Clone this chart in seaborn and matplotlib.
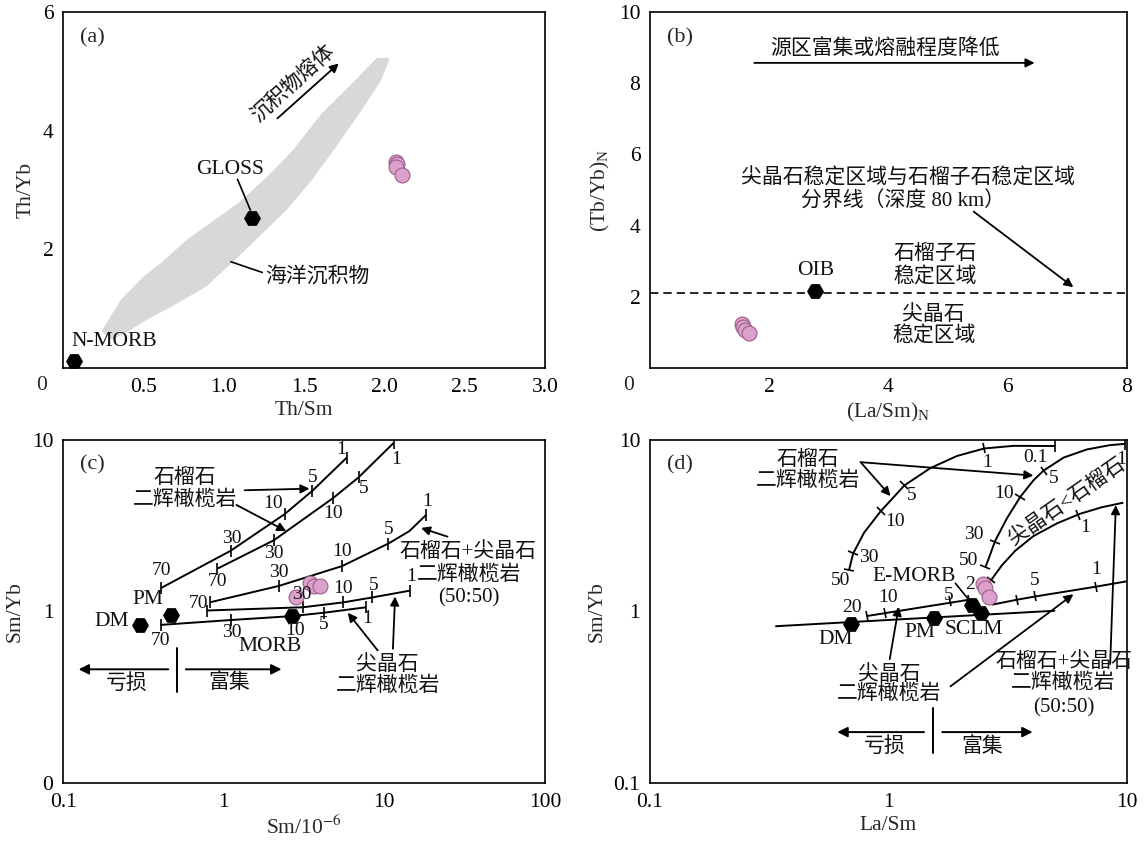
import numpy as np
import matplotlib
matplotlib.use("Agg")
import matplotlib.pyplot as plt
import seaborn as sns
from matplotlib.markers import MarkerStyle
from matplotlib.transforms import Affine2D
from matplotlib.ticker import MultipleLocator, FixedLocator, FixedFormatter, LogLocator, NullFormatter

sns.set_theme(style="white")
plt.rcParams["font.family"] = ["Liberation Serif", "Noto Sans CJK SC"]
plt.rcParams["mathtext.fontset"] = "stix"
plt.rcParams["axes.unicode_minus"] = False

# ---------------- (a) Th/Yb vs Th/Sm ----------------
a_sed_x = [0.24, 0.36, 0.50, 0.61, 0.77, 0.93, 1.09, 1.27, 1.43, 1.61, 1.80, 1.89, 1.95, 2.02,
           2.03, 1.98, 1.86, 1.70, 1.55, 1.39, 1.20, 1.05, 0.89, 0.82, 0.68, 0.52, 0.39, 0.30]
a_sed_y = [0.62, 1.15, 1.54, 1.77, 2.16, 2.47, 2.78, 3.22, 3.67, 4.29, 4.80, 5.05, 5.22, 5.23,
           5.19, 4.85, 4.35, 3.73, 3.17, 2.66, 2.16, 1.77, 1.37, 1.26, 1.04, 0.81, 0.59, 0.48]
a_sample_x = [2.07, 2.08, 2.075, 2.11]
a_sample_y = [3.47, 3.43, 3.38, 3.25]
a_ref_x = [0.068, 1.177]          # N-MORB, GLOSS
a_ref_y = [0.11, 2.52]

# ---------------- (b) (Tb/Yb)N vs (La/Sm)N ----------------
b_sample_x = [1.545, 1.56, 1.60, 1.655]
b_sample_y = [1.24, 1.15, 1.06, 0.98]
b_oib_x = [2.77]
b_oib_y = [2.17]
b_boundary = 2.1

# ---------------- (c) Sm/Yb vs Sm ----------------
c_grt1_x = [0.405, 1.105, 2.39, 3.56, 5.83]
c_grt1_y = [1.366, 2.26, 3.69, 5.05, 7.89]
c_grt2_x = [0.914, 2.05, 4.82, 6.92, 11.4]
c_grt2_y = [1.777, 2.60, 4.60, 6.06, 9.6]
c_mix_x = [0.818, 2.21, 5.46, 10.6, 14.3, 18.2]
c_mix_y = [1.13, 1.41, 1.84, 2.49, 2.94, 3.66]
c_mix_ticks = [0, 1, 2, 3, 5]
c_spl1_x = [0.787, 3.11, 5.56, 8.39, 14.5]
c_spl1_y = [1.013, 1.058, 1.13, 1.207, 1.324]
c_spl2_x = [0.405, 1.116, 2.67, 4.2, 7.7]
c_spl2_y = [0.835, 0.892, 0.940, 0.983, 1.058]
c_melt = ["70", "30", "10", "5", "1"]
c_ref_names = ["DM", "PM", "MORB"]
c_ref_x = [0.30, 0.473, 2.67]
c_ref_y = [0.835, 0.949, 0.94]
c_sample_x = [2.83, 3.42, 3.67, 3.98]
c_sample_y = [1.22, 1.46, 1.40, 1.40]

# ---------------- (d) Sm/Yb vs La/Sm ----------------
d_arc1_x = [0.683, 0.711, 0.79, 0.926, 1.167, 1.50, 1.94, 2.52, 3.34, 5.0]
d_arc1_y = [1.74, 2.18, 2.88, 3.83, 5.44, 6.86, 8.07, 8.92, 9.24, 9.22]
d_arc1_tx = [0.683, 0.711, 0.926, 1.167, 2.52, 5.0]
d_arc1_ty = [1.74, 2.18, 3.83, 5.44, 8.92, 9.22]
d_arc2_x = [2.55, 2.66, 2.80, 3.14, 3.57, 4.05, 4.47, 5.42, 6.78, 8.49, 9.82]
d_arc2_y = [1.815, 2.12, 2.58, 3.50, 4.66, 5.81, 6.63, 7.89, 8.80, 9.33, 9.49]
d_arc2_tx = [2.55, 2.80, 3.57, 4.47, 9.82]
d_arc2_ty = [1.815, 2.55, 4.66, 6.63, 9.49]
d_arc3_x = [2.69, 2.99, 3.40, 4.05, 5.08, 6.35, 7.83, 9.66]
d_arc3_y = [1.52, 1.86, 2.26, 2.75, 3.26, 3.71, 4.05, 4.31]
d_arc3_tx = [2.69, 6.25]
d_arc3_ty = [1.52, 3.66]
d_spl1_x = [0.81, 2.17]
d_spl1_y = [0.94, 1.17]
d_spl1_tx = [0.81, 0.97, 1.816, 2.17]
d_spl1_ty = [0.94, 0.979, 1.145, 1.17]
d_spl2_x = [2.72, 3.45, 4.12, 7.41, 10.0]
d_spl2_y = [1.096, 1.17, 1.223, 1.395, 1.5]
d_spl2_tx = [3.45, 4.12, 7.41]
d_spl2_ty = [1.17, 1.223, 1.395]
d_mantle_x = [0.335, 5.0]
d_mantle_y = [0.82, 1.01]
d_ref_names = ["DM", "PM", "E-MORB", "SCLM"]
d_ref_x = [0.693, 1.557, 2.23, 2.44]
d_ref_y = [0.85, 0.915, 1.089, 0.983]
d_sample_x = [2.50, 2.55, 2.65]
d_sample_y = [1.445, 1.37, 1.22]

PINK = "#DBA1CB"
PINK_EDGE = "#9C5F8B"
FS_TICK = 15.5
FS_CN = 15
FS_NUM = 14

fig = plt.figure(figsize=(11.48, 8.43), dpi=100)
ax_a = fig.add_axes([0.0549, 0.5635, 0.4199, 0.4223])
ax_b = fig.add_axes([0.5662, 0.5635, 0.4155, 0.4223])
ax_c = fig.add_axes([0.0549, 0.0712, 0.4199, 0.4069])
ax_d = fig.add_axes([0.5662, 0.0712, 0.4155, 0.4069])

for ax in (ax_a, ax_b, ax_c, ax_d):
    for s in ax.spines.values():
        s.set_color("black")
        s.set_linewidth(1.2)
    ax.tick_params(which="both", direction="in", top=False, right=False,
                   labelsize=FS_TICK, colors="black", pad=7)
    ax.tick_params(which="major", length=5, width=1.0)
    ax.tick_params(which="minor", length=3, width=0.8)


def arrow(ax, start, end, lw=1.3, ms=13):
    ax.annotate("", xy=end, xytext=start,
                arrowprops=dict(arrowstyle="-|>", color="black", lw=lw,
                                mutation_scale=ms, shrinkA=0, shrinkB=0))


def label(ax, x, y, s, size=FS_CN, **kw):
    ax.text(x, y, s, ha="center", va="center", fontsize=size, color="#111111",
            zorder=9, **kw)


def pink(ax, xs, ys, s=115):
    sns.scatterplot(x=xs, y=ys, ax=ax, s=s, color=PINK, edgecolor=PINK_EDGE,
                    linewidth=0.8, zorder=6, legend=False)


def hexes(ax, xs, ys, s=125):
    sns.scatterplot(x=xs, y=ys, ax=ax, s=s, marker="H", color="black",
                    edgecolor="black", zorder=7, legend=False)


def vticks(ax, xs, ys):
    ax.plot(xs, ys, ls="none", marker="|", ms=8, mew=1.2, color="black", zorder=4)


def perp_ticks(ax, cx, cy, tx, ty):
    pts = ax.transData.transform(np.column_stack([cx, cy]))
    for x, y in zip(tx, ty):
        p = ax.transData.transform((x, y))
        i = int(np.argmin(np.hypot(*(pts - p).T)))
        v = pts[min(i + 1, len(pts) - 1)] - pts[max(i - 1, 0)]
        ang = np.degrees(np.arctan2(v[1], v[0]))
        m = MarkerStyle("|", transform=Affine2D().rotate_deg(ang))
        ax.plot([x], [y], ls="none", marker=m, ms=8, mew=1.2, color="black", zorder=4)


def curve(ax, xs, ys):
    ax.plot(xs, ys, color="black", lw=1.4, zorder=3, solid_capstyle="butt")


# ======================= (a) =======================
ax = ax_a
ax.set_xlim(0, 3.0)
ax.set_ylim(0, 6)
ax.xaxis.set_major_locator(FixedLocator([0.5, 1.0, 1.5, 2.0, 2.5, 3.0]))
ax.xaxis.set_major_formatter(FixedFormatter(["0.5", "1.0", "1.5", "2.0", "2.5", "3.0"]))
ax.yaxis.set_major_locator(FixedLocator([2, 4, 6]))
ax.yaxis.set_minor_locator(MultipleLocator(0.2))
ax.text(-0.045, -0.05, "0", transform=ax.transAxes, ha="center", va="center", fontsize=FS_TICK)
ax.fill(a_sed_x, a_sed_y, color="#D8D8D8", lw=0, zorder=1)
hexes(ax, a_ref_x, a_ref_y)
pink(ax, a_sample_x, a_sample_y)
label(ax, 0.32, 0.45, "N-MORB", size=FS_TICK)
label(ax, 1.04, 3.34, "GLOSS", size=FS_TICK)
ax.plot([1.086, 1.166], [3.18, 2.66], color="black", lw=1.2)
label(ax, 1.58, 1.54, "海洋沉积物")
ax.plot([1.045, 1.24], [1.79, 1.61], color="black", lw=1.2)
arrow(ax, (1.334, 4.206), (1.716, 5.132))
label(ax, 1.43, 4.80, "沉积物熔体", rotation=42)
ax.text(0.035, 0.955, "(a)", transform=ax.transAxes, ha="left", va="top", fontsize=16)
ax.set_xlabel("Th/Sm", fontsize=FS_TICK, labelpad=3)
ax.set_ylabel("Th/Yb", fontsize=FS_TICK, labelpad=5)

# ======================= (b) =======================
ax = ax_b
ax.set_xlim(0, 8)
ax.set_ylim(0, 10)
ax.xaxis.set_major_locator(FixedLocator([2, 4, 6, 8]))
ax.xaxis.set_minor_locator(MultipleLocator(0.4))
ax.yaxis.set_major_locator(FixedLocator([2, 4, 6, 8, 10]))
ax.yaxis.set_minor_locator(MultipleLocator(1))
ax.text(-0.045, -0.05, "0", transform=ax.transAxes, ha="center", va="center", fontsize=FS_TICK)
ax.axhline(b_boundary, color="black", lw=1.2, ls=(0, (5, 3)), zorder=2)
hexes(ax, b_oib_x, b_oib_y)
pink(ax, b_sample_x, b_sample_y)
label(ax, 2.78, 2.74, "OIB", size=FS_TICK)
arrow(ax, (1.75, 8.57), (6.45, 8.57))
label(ax, 3.94, 8.94, "源区富集或熔融程度降低")
label(ax, 4.33, 5.33, "尖晶石稳定区域与石榴子石稳定区域")
label(ax, 4.24, 4.67, "分界线（深度 80 km）")
arrow(ax, (5.43, 4.39), (7.10, 2.27))
label(ax, 4.79, 3.18, "石榴子石")
label(ax, 4.79, 2.54, "稳定区域")
label(ax, 4.76, 1.50, "尖晶石")
label(ax, 4.76, 0.89, "稳定区域")
ax.text(0.035, 0.955, "(b)", transform=ax.transAxes, ha="left", va="top", fontsize=16)
ax.set_xlabel("(La/Sm)$_{\\mathregular{N}}$", fontsize=FS_TICK, labelpad=3)
ax.set_ylabel("(Tb/Yb)$_{\\mathregular{N}}$", fontsize=FS_TICK, labelpad=5)

# ======================= (c) =======================
ax = ax_c
ax.set_xscale("log")
ax.set_yscale("log")
ax.set_xlim(0.1, 100)
ax.set_ylim(0.1, 10)
ax.xaxis.set_major_locator(FixedLocator([0.1, 1, 10, 100]))
ax.xaxis.set_major_formatter(FixedFormatter(["0.1", "1", "10", "100"]))
ax.xaxis.set_minor_locator(LogLocator(base=10, subs=np.arange(2, 10)))
ax.xaxis.set_minor_formatter(NullFormatter())
ax.yaxis.set_major_locator(FixedLocator([0.1, 1, 10]))
ax.yaxis.set_major_formatter(FixedFormatter(["0", "1", "10"]))
ax.yaxis.set_minor_locator(LogLocator(base=10, subs=np.arange(2, 10)))
ax.yaxis.set_minor_formatter(NullFormatter())

for xs, ys in [(c_grt1_x, c_grt1_y), (c_grt2_x, c_grt2_y), (c_mix_x, c_mix_y),
               (c_spl1_x, c_spl1_y), (c_spl2_x, c_spl2_y)]:
    curve(ax, xs, ys)
vticks(ax, c_grt1_x, c_grt1_y)
vticks(ax, c_grt2_x, c_grt2_y)
vticks(ax, [c_mix_x[i] for i in c_mix_ticks], [c_mix_y[i] for i in c_mix_ticks])
vticks(ax, c_spl1_x, c_spl1_y)
vticks(ax, c_spl2_x, c_spl2_y)
hexes(ax, c_ref_x, c_ref_y)
pink(ax, c_sample_x, c_sample_y)

c_num_labels = [
    (0.41, 1.74), (1.12, 2.66), (2.04, 4.25), (3.56, 6.06), (5.38, 8.8),      # garnet 1
    (0.914, 1.49), (2.05, 2.19), (4.82, 3.71), (7.44, 5.2), (11.8, 7.71),    # garnet 2
    (0.692, 1.12), (2.21, 1.69), (5.46, 2.23), (10.6, 3.01), (18.4, 4.37),   # garnet+spinel
    (None, None), (3.08, 1.25), (5.51, 1.366), (8.55, 1.41), (14.6, 1.59),    # spinel (PM)
    (0.405, 0.676), (1.116, 0.756), (2.76, 0.779), (4.2, 0.843), (7.76, 0.912),  # spinel (DM)
]
for k, (x, y) in enumerate(c_num_labels):
    if x is not None:
        label(ax, x, y, c_melt[k % 5], size=FS_NUM)

label(ax, 0.20, 0.877, "DM", size=FS_TICK)
label(ax, 0.339, 1.168, "PM", size=FS_TICK)
label(ax, 1.95, 0.625, "MORB", size=FS_TICK)
label(ax, 0.573, 5.93, "石榴石")
label(ax, 0.573, 4.47, "二辉橄榄岩")
arrow(ax, (1.35, 5.09), (3.42, 5.2))
arrow(ax, (1.20, 4.18), (2.45, 2.94))
label(ax, 32.9, 2.23, "石榴石+尖晶石")
label(ax, 33.7, 1.63, "二辉橄榄岩")
label(ax, 33.7, 1.20, "(50:50)")
arrow(ax, (24.7, 2.73), (16.9, 3.07))
label(ax, 10.5, 0.487, "尖晶石")
label(ax, 10.5, 0.368, "二辉橄榄岩")
arrow(ax, (9.08, 0.593), (5.92, 0.983))
arrow(ax, (11.3, 0.606), (11.65, 1.223))
# depleted / enriched
ax.plot([0.515, 0.515], [0.615, 0.34], color="black", lw=1.4)
arrow(ax, (0.452, 0.46), (0.125, 0.46), lw=1.4, ms=15)
arrow(ax, (0.581, 0.46), (2.29, 0.46), lw=1.4, ms=15)
label(ax, 0.248, 0.38, "亏损")
label(ax, 1.074, 0.38, "富集")
ax.text(0.035, 0.955, "(c)", transform=ax.transAxes, ha="left", va="top", fontsize=16)
ax.set_xlabel("Sm/10$^{-6}$", fontsize=FS_TICK, labelpad=3)
ax.set_ylabel("Sm/Yb", fontsize=FS_TICK, labelpad=5)

# ======================= (d) =======================
ax = ax_d
ax.set_xscale("log")
ax.set_yscale("log")
ax.set_xlim(0.1, 10)
ax.set_ylim(0.1, 10)
ax.xaxis.set_major_locator(FixedLocator([0.1, 1, 10]))
ax.xaxis.set_major_formatter(FixedFormatter(["0.1", "1", "10"]))
ax.xaxis.set_minor_locator(LogLocator(base=10, subs=np.arange(2, 10)))
ax.xaxis.set_minor_formatter(NullFormatter())
ax.yaxis.set_major_locator(FixedLocator([0.1, 1, 10]))
ax.yaxis.set_major_formatter(FixedFormatter(["0.1", "1", "10"]))
ax.yaxis.set_minor_locator(LogLocator(base=10, subs=np.arange(2, 10)))
ax.yaxis.set_minor_formatter(NullFormatter())

for xs, ys in [(d_arc1_x, d_arc1_y), (d_arc2_x, d_arc2_y), (d_arc3_x, d_arc3_y),
               (d_spl1_x, d_spl1_y), (d_spl2_x, d_spl2_y), (d_mantle_x, d_mantle_y)]:
    curve(ax, xs, ys)
perp_ticks(ax, d_arc1_x, d_arc1_y, d_arc1_tx, d_arc1_ty)
perp_ticks(ax, d_arc2_x, d_arc2_y, d_arc2_tx, d_arc2_ty)
perp_ticks(ax, d_arc3_x, d_arc3_y, d_arc3_tx, d_arc3_ty)
perp_ticks(ax, d_spl1_x, d_spl1_y, d_spl1_tx, d_spl1_ty)
perp_ticks(ax, d_spl2_x, d_spl2_y, d_spl2_tx, d_spl2_ty)
hexes(ax, d_ref_x, d_ref_y)
pink(ax, d_sample_x, d_sample_y)

for s, x, y in [("50", 0.63, 1.52), ("30", 0.827, 2.07), ("10", 1.07, 3.36), ("5", 1.256, 4.77),
                ("1", 2.6, 7.4), ("0.1", 4.12, 7.89),
                ("50", 2.17, 1.98), ("30", 2.27, 2.82), ("10", 3.05, 4.87), ("5", 4.92, 5.93),
                ("1", 9.44, 7.73), ("1", 6.67, 3.07),
                ("20", 0.705, 1.06), ("10", 1.0, 1.207), ("5", 1.78, 1.245), ("2", 2.2, 1.43),
                ("5", 4.12, 1.52), ("1", 7.41, 1.76)]:
    label(ax, x, y, s, size=FS_NUM)

label(ax, 0.60, 0.69, "DM", size=FS_TICK)
label(ax, 1.36, 0.756, "PM", size=FS_TICK)
label(ax, 2.27, 0.789, "SCLM", size=FS_TICK)
label(ax, 1.28, 1.60, "E-MORB", size=FS_TICK)
ax.plot([1.907, 2.2], [1.46, 1.145], color="black", lw=1.2)
label(ax, 0.461, 7.6, "石榴石")
label(ax, 0.461, 5.75, "二辉橄榄岩")
arrow(ax, (0.764, 7.42), (1.02, 4.71))
arrow(ax, (0.764, 7.42), (4.05, 6.2))
label(ax, 5.63, 4.37, "尖晶石<石榴石", rotation=35)
label(ax, 1.01, 0.426, "尖晶石")
label(ax, 1.01, 0.33, "二辉橄榄岩")
arrow(ax, (1.012, 0.527), (1.104, 1.065))
arrow(ax, (1.82, 0.366), (5.96, 1.26))
label(ax, 5.42, 0.509, "石榴石+尖晶石")
label(ax, 5.42, 0.383, "二辉橄榄岩")
label(ax, 5.42, 0.275, "(50:50)")
arrow(ax, (8.5, 0.494), (8.98, 4.17))
ax.plot([1.54, 1.54], [0.272, 0.15], color="black", lw=1.4)
arrow(ax, (1.41, 0.198), (0.61, 0.198), lw=1.4, ms=15)
arrow(ax, (1.68, 0.198), (4.02, 0.198), lw=1.4, ms=15)
label(ax, 0.96, 0.163, "亏损")
label(ax, 2.46, 0.163, "富集")
ax.text(0.035, 0.955, "(d)", transform=ax.transAxes, ha="left", va="top", fontsize=16)
ax.set_xlabel("La/Sm", fontsize=FS_TICK, labelpad=3)
ax.set_ylabel("Sm/Yb", fontsize=FS_TICK, labelpad=5)

fig.savefig("out.png", dpi=100, facecolor="white")
